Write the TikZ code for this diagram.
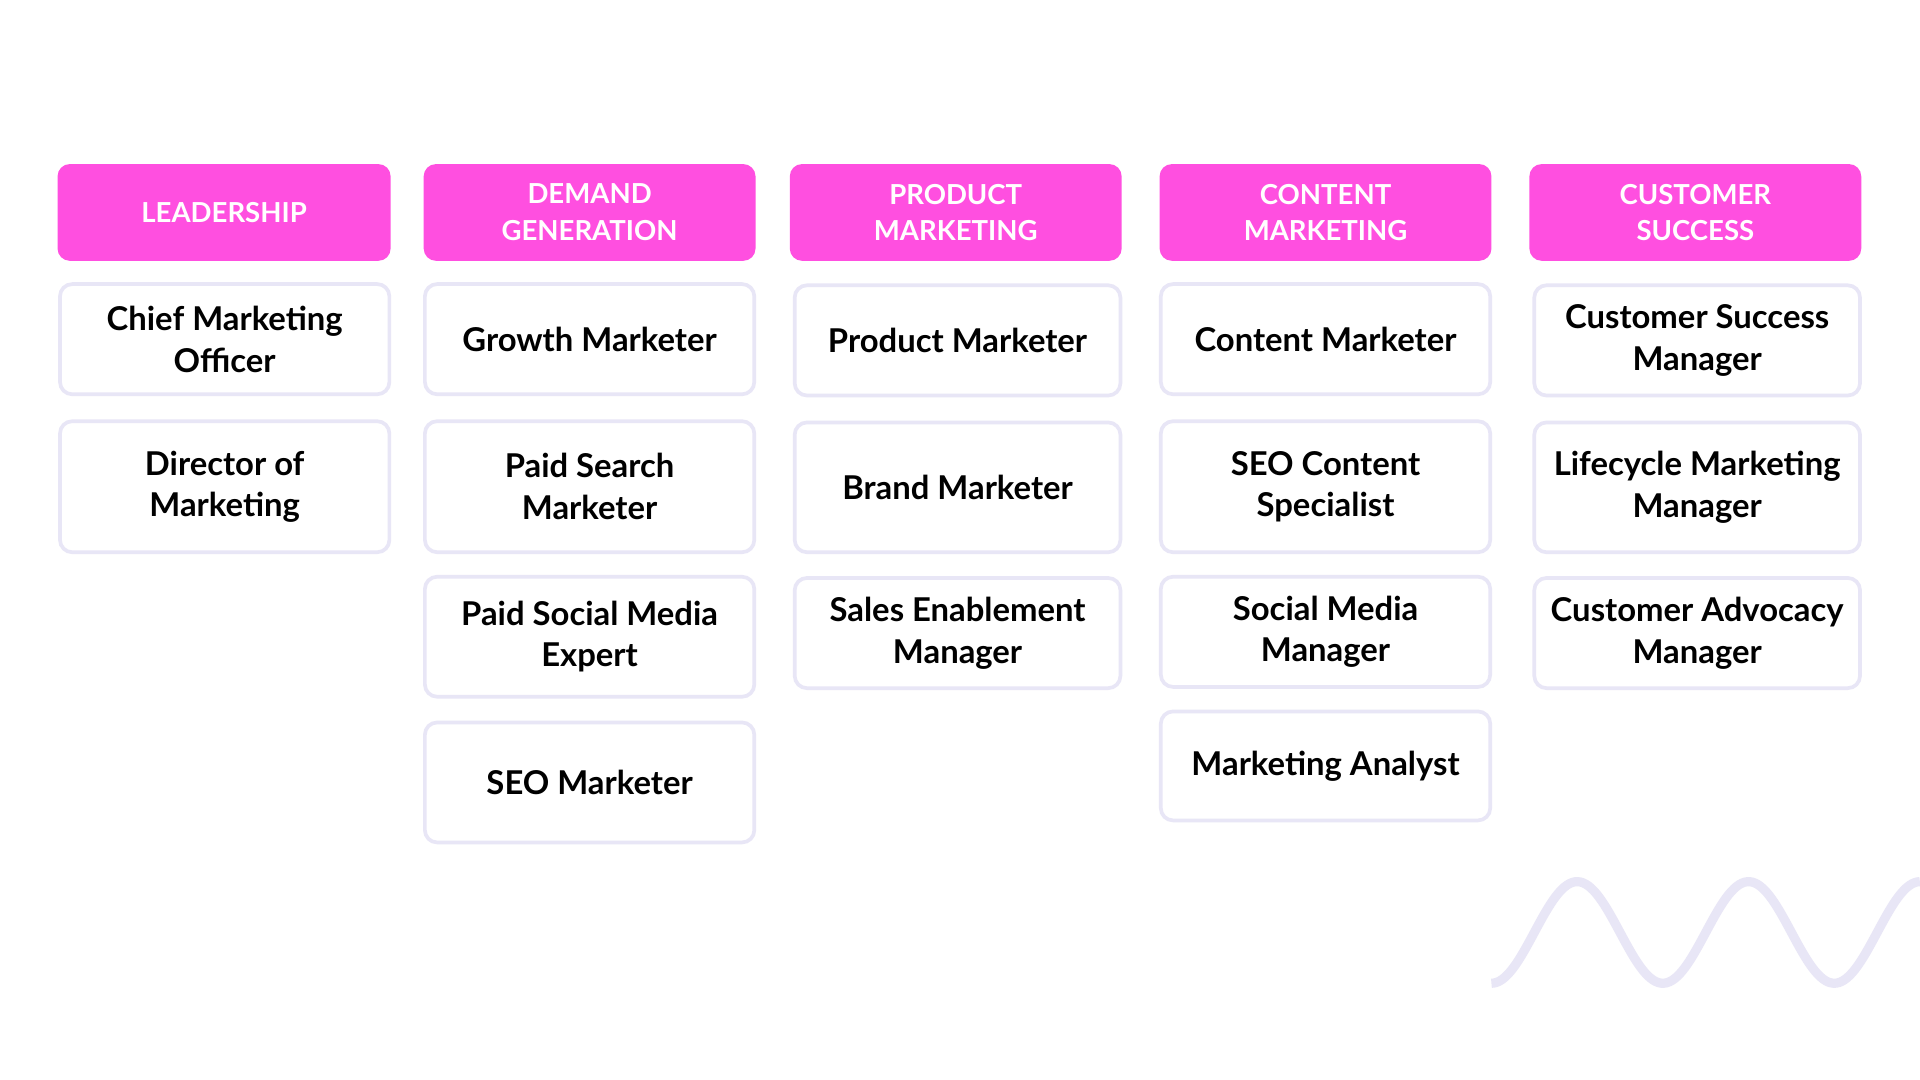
\documentclass[tikz,border=0pt]{standalone}
\usepackage{fontspec}
\setmainfont{Lato}
\definecolor{pinkh}{HTML}{FF4FE0}
\definecolor{lav}{HTML}{E8E6F6}
\begin{document}
\begin{tikzpicture}[x=1pt,y=-1pt,
 hd/.style={fill=pinkh,draw=none,rounded corners=10pt,text=white,font=\fontsize{22.5}{30}\selectfont\bfseries,align=center,inner sep=0pt},
 bx/.style={fill=white,draw=lav,line width=3pt,rounded corners=10pt,text=black,font=\fontsize{26.8}{34}\selectfont\bfseries,align=center,inner sep=0pt}]
\useasboundingbox (0,0) rectangle (1568,882);
\fill[white] (0,0) rectangle (1568,882);
\newcommand\bb[7]{\node[#1,minimum width={#5-#3},minimum height={#6-#4}] (#2) at ({(#3+#5)/2},{(#4+#6)/2}) {#7};}
% headers
\bb{hd}{h1}{47}{134}{319}{213}{LEADERSHIP}
\bb{hd}{h2}{346}{134}{617}{213}{DEMAND\\GENERATION}
\bb{hd}{h3}{645}{134}{916}{213}{PRODUCT\\MARKETING}
\bb{hd}{h4}{947}{134}{1218}{213}{CONTENT\\MARKETING}
\bb{hd}{h5}{1249}{134}{1520}{213}{CUSTOMER\\SUCCESS}
% col1
\bb{bx}{a1}{49}{232}{318}{322}{Chief Marketing\\Officer}
\bb{bx}{a2}{49}{344}{318}{451}{Director of\\Marketing}
% col2
\bb{bx}{b1}{347}{232}{616}{322}{Growth Marketer}
\bb{bx}{b2}{347}{344}{616}{451}{Paid Search\\Marketer}
\bb{bx}{b3}{347}{471}{616}{569}{Paid Social Media\\Expert}
\bb{bx}{b4}{347}{590}{616}{688}{SEO Marketer}
% col3
\bb{bx}{c1}{649}{233}{915}{323}{Product Marketer}
\bb{bx}{c2}{649}{345}{915}{451}{Brand Marketer}
\bb{bx}{c3}{649}{472}{915}{562}{Sales Enablement\\Manager}
% col4
\bb{bx}{d1}{948}{232}{1217}{322}{Content Marketer}
\bb{bx}{d2}{948}{344}{1217}{451}{SEO Content\\Specialist}
\bb{bx}{d3}{948}{471}{1217}{561}{Social Media\\Manager}
\bb{bx}{d4}{948}{581}{1217}{670}{Marketing Analyst}
% col5
\bb{bx}{e1}{1253}{233}{1519}{323}{Customer Success\\Manager}
\bb{bx}{e2}{1253}{345}{1519}{451}{Lifecycle Marketing\\Manager}
\bb{bx}{e3}{1253}{472}{1519}{562}{Customer Advocacy\\Manager}
% wave
\draw[lav,line width=7.5pt] plot[domain=0:5,samples=160] ({1218+\x*70},{761.5+41.5*cos(\x*180)});
\end{tikzpicture}
\end{document}
